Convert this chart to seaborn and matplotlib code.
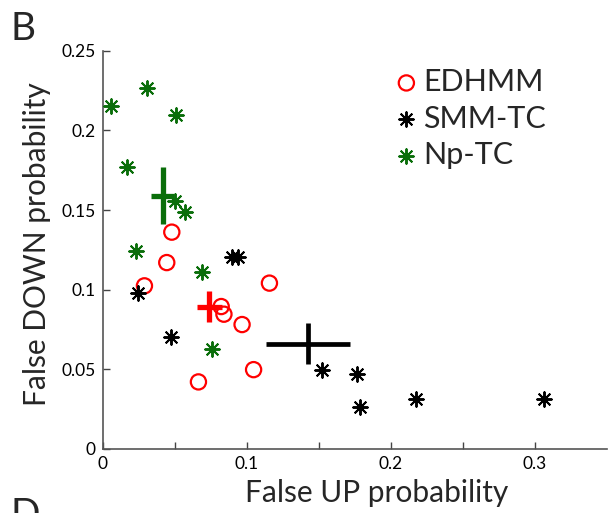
import matplotlib
matplotlib.use('Agg')
import matplotlib.pyplot as plt
import seaborn as sns
import pandas as pd

# 数据
edhmm_x = [0.048, 0.0445, 0.029, 0.1158, 0.0823, 0.0842, 0.0968, 0.1048, 0.0665]
edhmm_y = [0.1361, 0.117, 0.1024, 0.1041, 0.0894, 0.0846, 0.0781, 0.0498, 0.0421]

smm_x = [0.0244, 0.090, 0.094, 0.0477, 0.1523, 0.1764, 0.1786, 0.2174, 0.3067]
smm_y = [0.0978, 0.1202, 0.1202, 0.0703, 0.0496, 0.0471, 0.0262, 0.0314, 0.0314]

np_x = [0.0056, 0.031, 0.0507, 0.0172, 0.0499, 0.0574, 0.0231, 0.0692, 0.0756]
np_y = [0.2155, 0.2266, 0.2094, 0.1767, 0.1554, 0.1489, 0.1244, 0.1108, 0.0630]

# 均值 ± 误差
means = {
    'EDHMM': (0.074, 0.0894, 0.0087, 0.0097),
    'SMM-TC': (0.1426, 0.0662, 0.029, 0.0126),
    'Np-TC': (0.0418, 0.1589, 0.008, 0.018),
}

RED = '#ff0000'
BLACK = '#000000'
GREEN = '#0a6e0a'

sns.set_style('ticks')
plt.rcParams['font.family'] = ['Lato', 'DejaVu Sans']

df = pd.concat([
    pd.DataFrame({'x': edhmm_x, 'y': edhmm_y, 'model': 'EDHMM'}),
    pd.DataFrame({'x': smm_x, 'y': smm_y, 'model': 'SMM-TC'}),
    pd.DataFrame({'x': np_x, 'y': np_y, 'model': 'Np-TC'}),
])

fig = plt.figure(figsize=(6.09, 5.13), dpi=100)
ax = fig.add_axes([0.1686, 0.1248, 0.8276, 0.7764])

star = (8, 2, 0)

# 均值十字
for name, color, lw in [('EDHMM', RED, 3.8), ('SMM-TC', BLACK, 3.4), ('Np-TC', GREEN, 3.8)]:
    mx, my, ex, ey = means[name]
    ax.errorbar([mx], [my], xerr=[ex], yerr=[ey], fmt='none', ecolor=color,
                elinewidth=lw, capsize=0, zorder=2)

sns.scatterplot(data=df[df.model == 'EDHMM'], x='x', y='y', ax=ax, marker='o',
                s=120, facecolors='none', edgecolor=RED, linewidth=1.6,
                label='EDHMM', zorder=3)
sns.scatterplot(data=df[df.model == 'SMM-TC'], x='x', y='y', ax=ax, marker=star,
                s=110, color=BLACK, edgecolor=BLACK, linewidth=1.4,
                label='SMM-TC', zorder=3)
sns.scatterplot(data=df[df.model == 'Np-TC'], x='x', y='y', ax=ax, marker=star,
                s=110, color=GREEN, edgecolor=GREEN, linewidth=1.4,
                label='Np-TC', zorder=3)

ax.set_xlim(0, 0.35)
ax.set_ylim(0, 0.25)
ax.set_xticks([0, 0.05, 0.1, 0.15, 0.2, 0.25, 0.3])
ax.set_xticklabels(['0', '', '0.1', '', '0.2', '', '0.3'])
ax.set_yticks([0, 0.05, 0.1, 0.15, 0.2, 0.25])
ax.set_yticklabels(['0', '0.05', '0.1', '0.15', '0.2', '0.25'])
ax.tick_params(direction='in', length=5, width=1, colors='#444444',
               labelcolor='black', labelsize=12.5, pad=5)
for side in ['top', 'right']:
    ax.spines[side].set_visible(False)
for side in ['left', 'bottom']:
    ax.spines[side].set_color('#555555')
    ax.spines[side].set_linewidth(1.2)

ax.set_xlabel('False UP probability', fontsize=21.5)
ax.set_ylabel('False DOWN probability', fontsize=21.5)
ax.xaxis.set_label_coords(0.544, -0.075)
ax.yaxis.set_label_coords(-0.102, 0.515)

leg = ax.legend(loc='upper left', bbox_to_anchor=(0.548, 0.995), frameon=False,
                fontsize=22, handlelength=0.8, handletextpad=0.15,
                labelspacing=0.28, borderpad=0)

fig.text(10 / 609, 1 - 40 / 513, 'B', fontsize=28, ha='left', va='baseline')
fig.text(10 / 609, 1 - 497 / 513, 'D', fontsize=28, ha='left', va='top')

fig.savefig('out.png', dpi=100)
